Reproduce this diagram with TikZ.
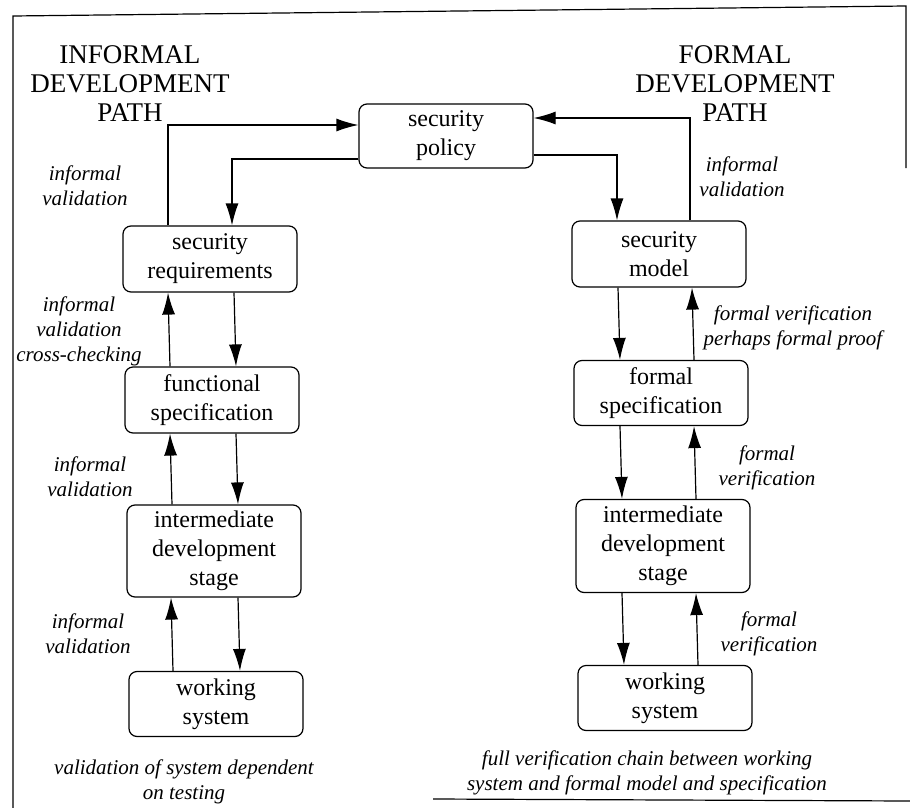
\documentclass[tikz,border=0pt]{standalone}
\usepackage{fontspec}
\setmainfont{Liberation Serif}
\usetikzlibrary{arrows.meta}

\begin{document}
\begin{tikzpicture}[x=1pt,y=-1pt,>={Latex[length=22pt,width=13pt]},line width=1.2pt,
	stage/.style={draw,rounded corners=8pt,minimum width=174pt,minimum height=66pt,
		inner sep=0pt,align=center,font=\fontsize{24}{29}\selectfont},
	path title/.style={align=center,font=\fontsize{27}{29}\selectfont},
	note/.style={align=center,font=\fontsize{21}{25}\selectfont\itshape}]
	\useasboundingbox (0,0) rectangle (910,808);
	% frame (partly lost in the scan)
	\draw (13,808) -- (13,16) -- (906,6) -- (906,168);
	\draw (433,799) -- (910,801);
	% titles
	\node [path title] (infT) at (130,84) {INFORMAL\\DEVELOPMENT\\PATH};
	\node [path title] (forT) at (735,84) {FORMAL\\DEVELOPMENT\\PATH};
	% stages
	\node [stage,minimum height=64pt] (pol) at (446,136) {security\\policy};
	\node [stage] (req) at (210,259) {security\\requirements};
	\node [stage] (fun) at (212,400) {functional\\specification};
	\node [stage,minimum height=92pt] (imL) at (214,551) {intermediate\\development\\stage};
	\node [stage,minimum height=65pt] (wsL) at (216,704) {working\\system};
	\node [stage] (mod) at (659,254) {security\\model};
	\node [stage,minimum height=65pt] (fsp) at (661,393) {formal\\specification};
	\node [stage,minimum height=93pt] (imR) at (663,546) {intermediate\\development\\stage};
	\node [stage,minimum height=65pt] (wsR) at (665,698) {working\\system};
	% connectors to and from the policy
	\draw [->] ([xshift=-42pt]req.north) |- ([yshift=11pt]pol.west);
	\draw [->] ([yshift=-23pt]pol.west) -| ([xshift=22pt]req.north);
	\draw [->] ([xshift=31pt]mod.north) |- ([yshift=18pt]pol.east);
	\draw [->] ([yshift=-19pt]pol.east) -| ([xshift=-42pt]mod.north);
	% informal path
	\draw [->] ([xshift=-42pt]fun.north) -- ([xshift=-42pt]req.south);
	\draw [->] ([xshift=24pt]req.south) -- ([xshift=24pt]fun.north);
	\draw [->] ([xshift=-42pt]imL.north) -- ([xshift=-42pt]fun.south);
	\draw [->] ([xshift=24pt]fun.south) -- ([xshift=24pt]imL.north);
	\draw [->] ([xshift=-43pt]wsL.north) -- ([xshift=-43pt]imL.south);
	\draw [->] ([xshift=24pt]imL.south) -- ([xshift=24pt]wsL.north);
	% formal path
	\draw [->] ([xshift=-41pt]mod.south) -- ([xshift=-41pt]fsp.north);
	\draw [->] ([xshift=33pt]fsp.north) -- ([xshift=33pt]mod.south);
	\draw [->] ([xshift=-41pt]fsp.south) -- ([xshift=-41pt]imR.north);
	\draw [->] ([xshift=33pt]imR.north) -- ([xshift=33pt]fsp.south);
	\draw [->] ([xshift=-41pt]imR.south) -- ([xshift=-41pt]wsR.north);
	\draw [->] ([xshift=33pt]wsR.north) -- ([xshift=33pt]imR.south);
	% notes
	\node [note] (nL1) at (85,186) {informal\\validation};
	\node [note] (nL2) at (79,331) {informal\\validation\\cross-checking};
	\node [note] (nL3) at (90,477) {informal\\validation};
	\node [note] (nL4) at (88,634) {informal\\validation};
	\node [note] (nL5) at (184,782) {validation of system dependent\\on testing};
	\node [note] (nR1) at (742,177) {informal\\validation};
	\node [note] (nR2) at (793,328) {formal verification\\perhaps formal proof};
	\node [note] (nR3) at (767,468) {formal\\verification};
	\node [note] (nR4) at (769,634) {formal\\verification};
	\node [note] (nR5) at (647,773) {full verification chain between working\\system and formal model and specification};
\end{tikzpicture}
\end{document}
